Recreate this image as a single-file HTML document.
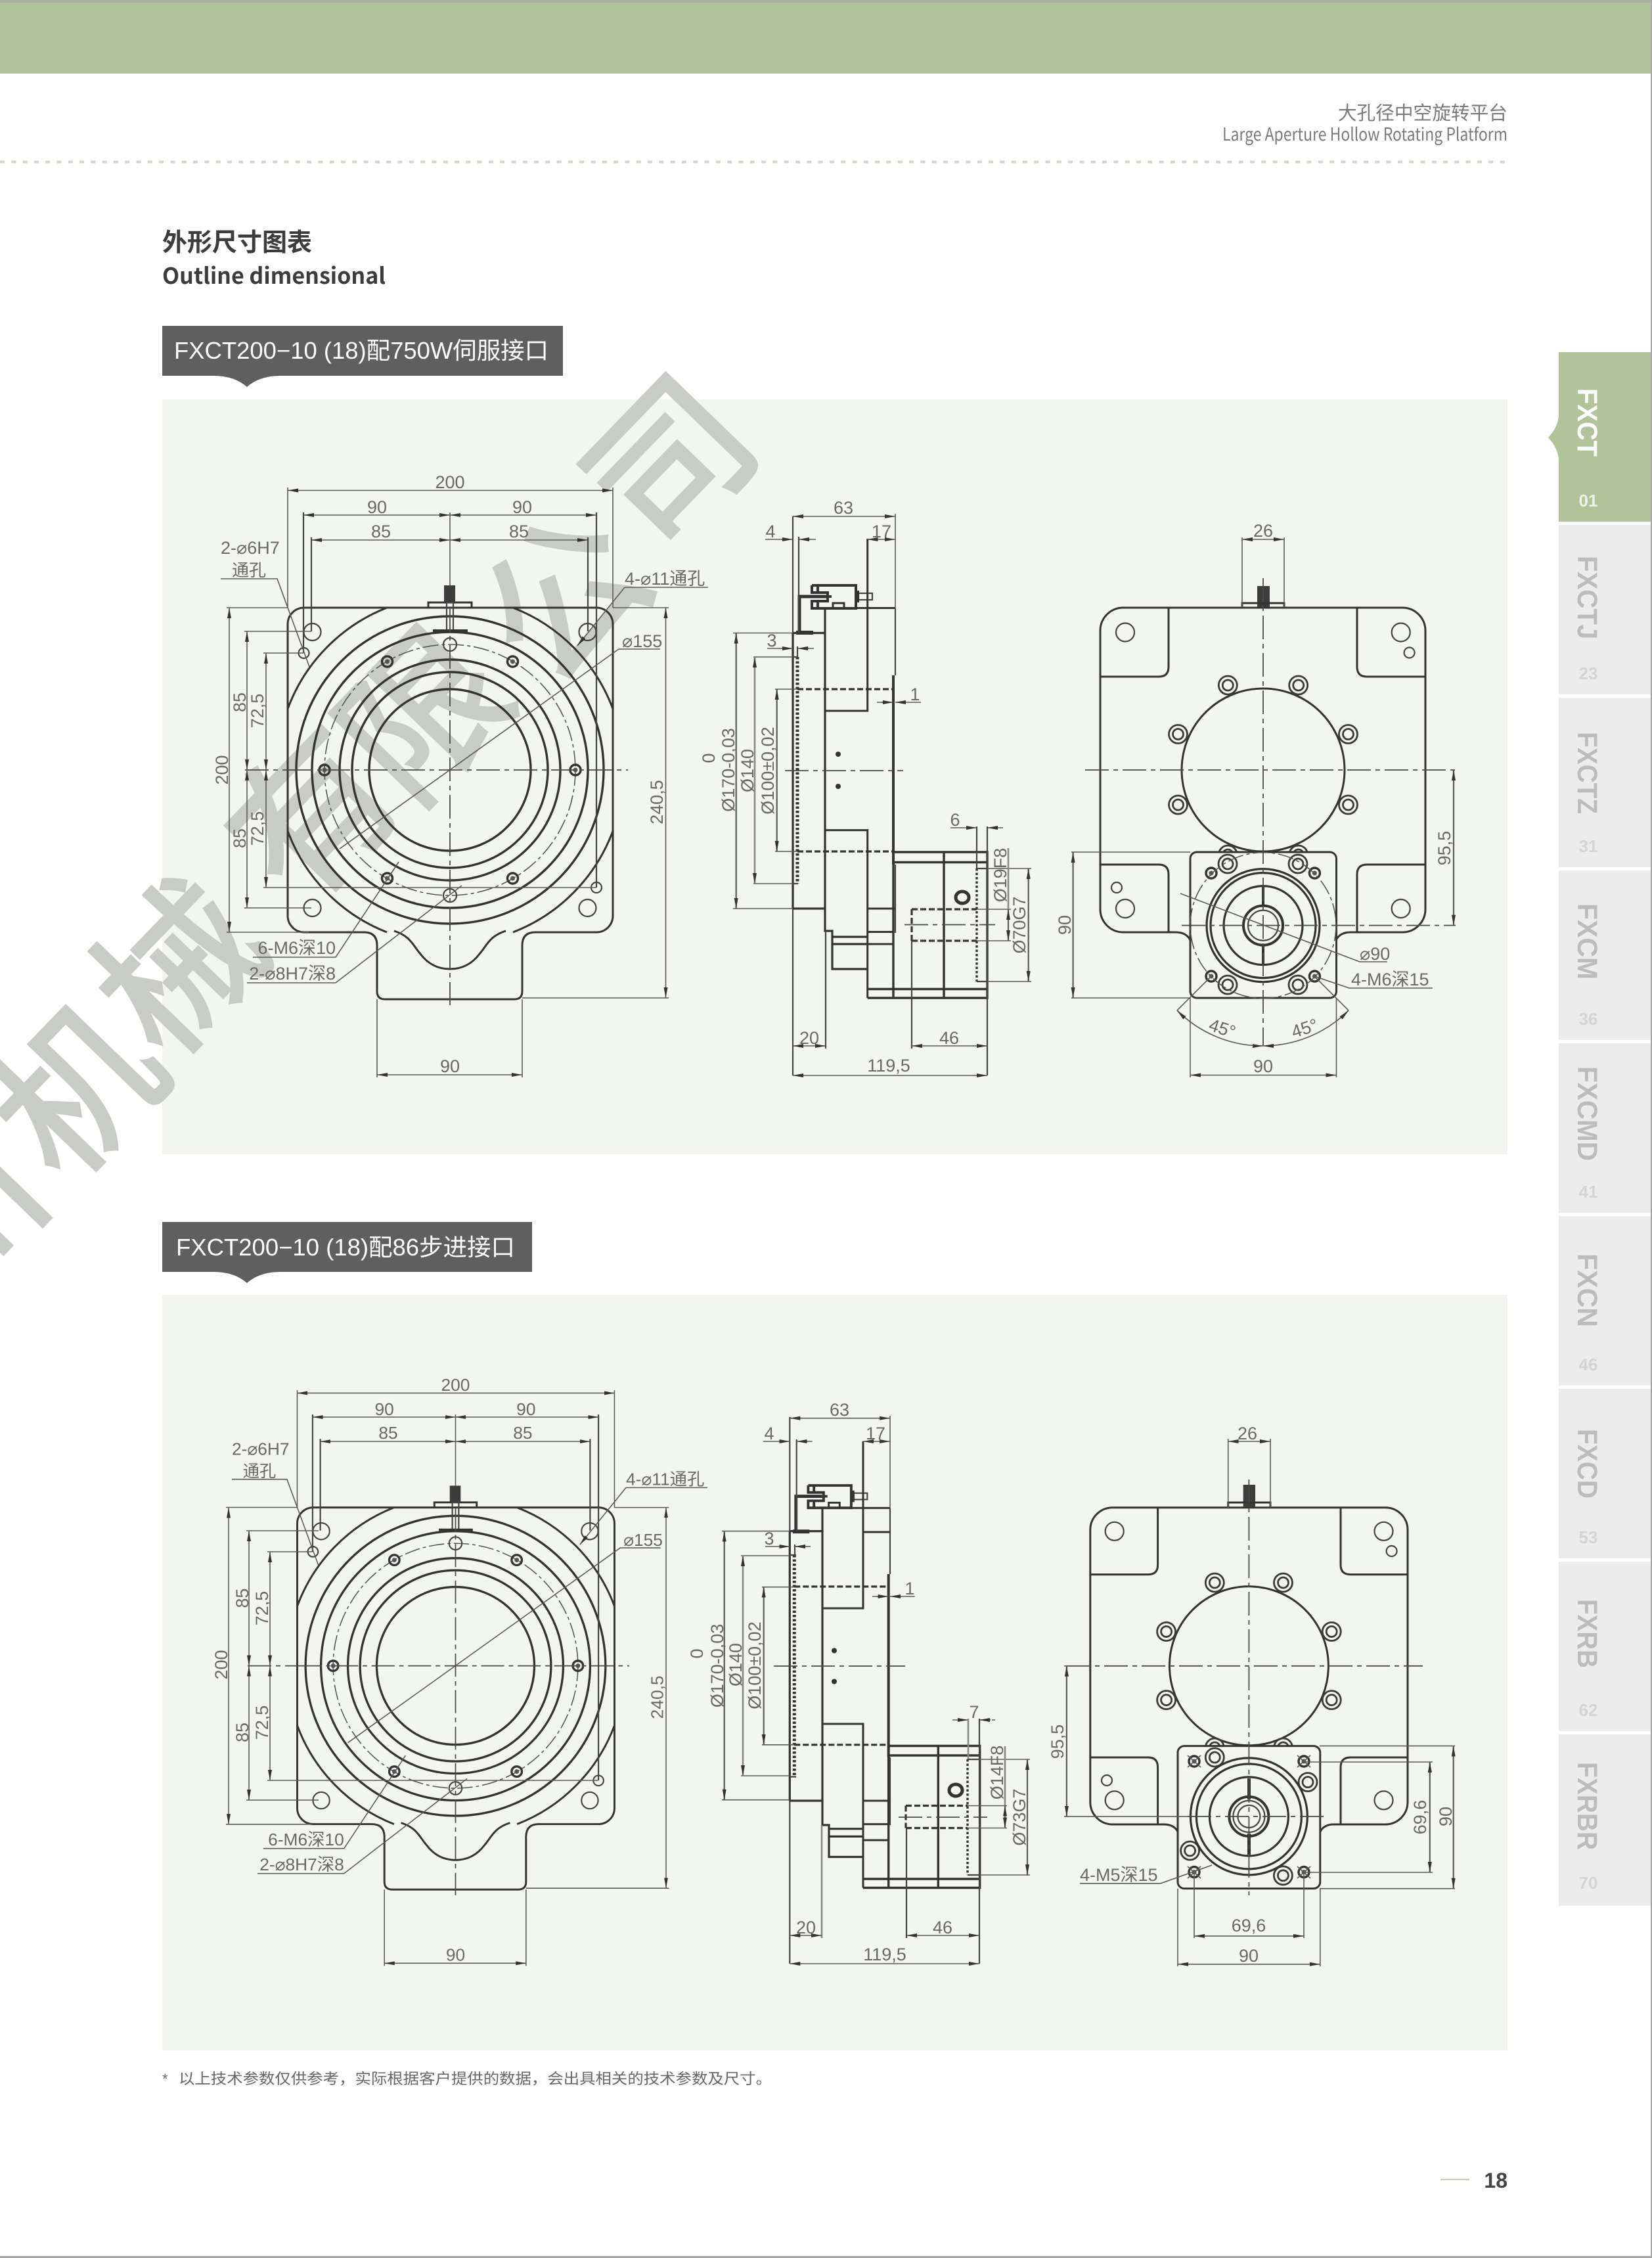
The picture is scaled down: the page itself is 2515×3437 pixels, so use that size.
<!DOCTYPE html>
<html lang="zh">
<head>
<meta charset="utf-8">
<title>FXCT200 Outline dimensional</title>
<style>
html,body{margin:0;padding:0;background:#fff;width:2515px;height:3437px;overflow:hidden}
svg{position:absolute;left:0;top:0;display:block}
.o{fill:none;stroke:#333;stroke-width:3}
.k{fill:none;stroke:#333;stroke-width:4}
.n{fill:none;stroke:#444;stroke-width:2.200}
.d{fill:none;stroke:#5a5a5a;stroke-width:1.600}
.g{fill:none;stroke:#888;stroke-width:2.600}
.c{fill:none;stroke:#4a4a4a;stroke-width:1.800;stroke-dasharray:36 7 7 7}
.s{fill:none;stroke:#555;stroke-width:1.600;stroke-dasharray:24 5 5 5}
.h{fill:none;stroke:#333;stroke-width:3.200;stroke-dasharray:9 4}
.p{fill:none;stroke:#333;stroke-width:5;stroke-dasharray:3.500 3}
.a{marker-start:url(#ar);marker-end:url(#ar)}
.e{marker-end:url(#ar)}
.t{font-family:"Liberation Sans","Noto Sans CJK SC",sans-serif;font-size:27px;fill:#696969}
.m{text-anchor:middle}
.r{text-anchor:end}
.tab{font-family:"Liberation Sans",sans-serif;font-weight:700;font-size:43px}
.num{font-family:"Liberation Sans",sans-serif;font-weight:700;font-size:26px;text-anchor:middle}
.wm{font-family:"Noto Sans CJK SC",sans-serif;font-weight:400;font-size:240px;fill:#c9cbc7;stroke:#c9cbc7;stroke-width:5;text-anchor:middle}
</style>
</head>
<body>
<svg xmlns="http://www.w3.org/2000/svg" width="2515" height="3437" viewBox="0 0 2515 3437">
<defs>
<marker id="ar" viewBox="0 0 16 6" refX="16" refY="3" markerWidth="16" markerHeight="6" markerUnits="userSpaceOnUse" orient="auto-start-reverse"><path d="M0 0L16 3L0 6z" fill="#333"/></marker>
<g id="hl"><circle fill="none" stroke="#3a3a3a" stroke-width="2.800" r="14"/><circle fill="none" stroke="#3a3a3a" stroke-width="2.800" r="8"/></g>
<g id="mh"><circle r="8" fill="none" stroke="#333" stroke-width="3.400"/><circle r="3.500" fill="#555"/></g>

<g id="fg">
<path class="o" d="M463 925H908A25 25 0 0 1 933 950V1394A25 25 0 0 1 908 1419H815Q795 1419 795 1439V1509Q795 1521 783 1521H586Q574 1521 574 1509V1439Q574 1419 554 1419H463A25 25 0 0 1 438 1394V950A25 25 0 0 1 463 925Z"/>
<path class="o" d="M438 1079A264 264 0 0 1 589 925M781 925A264 264 0 0 1 933 1079M933 1265A264 264 0 0 1 781 1419M438 1265A264 264 0 0 0 589 1419"/>
<path class="o" d="M600 1417C625 1425 628 1438 640 1452C652 1468 668 1475 685 1475C702 1475 718 1468 730 1452C742 1438 745 1425 770 1417"/>
<circle class="k" style="stroke-width:3.400" cx="685" cy="1172" r="234"/>
<circle class="k" style="stroke-width:3.400" cx="685" cy="1172" r="210"/>
<circle class="k" style="stroke-width:3.400" cx="685" cy="1172" r="168"/>
<circle class="k" style="stroke-width:3.400" cx="685" cy="1172" r="149"/>
<circle class="k" style="stroke-width:3.400" cx="685" cy="1172" r="123"/>
<circle class="s" cx="685" cy="1172" r="191"/>
<circle class="n" cx="475.500" cy="962" r="13"/>
<circle class="n" cx="894.500" cy="962" r="13"/>
<circle class="n" cx="475.500" cy="1382" r="13"/>
<circle class="n" cx="894.500" cy="1382" r="13"/>
<circle class="n" cx="462.500" cy="994" r="8"/>
<circle class="n" cx="908" cy="1351" r="8"/>
<circle class="n" cx="685" cy="981" r="10"/>
<circle class="n" cx="685" cy="1363" r="10"/>
<use href="#mh" x="494" y="1172"/><use href="#mh" x="876" y="1172"/>
<use href="#mh" x="589.500" y="1007"/><use href="#mh" x="780.500" y="1007"/>
<use href="#mh" x="589.500" y="1337"/><use href="#mh" x="780.500" y="1337"/>
<rect x="676" y="891" width="17" height="26" fill="#3c3c3c"/>
<path class="o" d="M652 925V917H718V925"/>
<rect class="n" x="680" y="917" width="10" height="44" fill="#f3f5f0"/>
<path class="k" d="M659 960H712"/>
<path class="d" d="M685 780V891"/>
<path class="c" d="M685 925V1530M440 1172H956"/>
<path class="d a" d="M438 746.500H933"/>
<path class="d" d="M438 742V925M933 742V925"/>
<path class="d a" d="M462 784H685"/><path class="d a" d="M685 784H908"/>
<path class="d a" d="M474 822H685"/><path class="d a" d="M685 822H895"/>
<path class="n" d="M462 780V994M908 780V1351M474 818V961M895 818V961"/>
<path class="d a" d="M1013.500 925V1519"/>
<path class="d" d="M933 925H1018M795 1519H1018"/>
<path class="d a" d="M574 1636H795"/>
<path class="d" d="M574 1521V1640M795 1521V1640"/>
<path class="d" d="M336 881H422L471 1015"/>
<path class="d" d="M951 894H1078"/><path class="d e" d="M951 894L879 983"/>
<path class="d" d="M1005 988H942L517 1292"/>
<path class="d" d="M385 1457H511L607 1312"/>
<path class="d" d="M376 1496H511L703 1348"/>
</g>

<g id="cn">
<path class="k" style="stroke-width:5" d="M1217 963V908H1258"/>
<path class="k" style="stroke-width:6" d="M1212 963H1238"/>
<path class="k" d="M1236 891H1303V926H1236V915H1245V926M1236 891V902H1245V891M1245 902H1260V915H1245M1258 908H1266"/>
<path class="o" d="M1268 925V918H1285V925"/>
<rect class="n" x="1307" y="903" width="21" height="10"/>
<rect x="1302" y="899" width="6" height="18" fill="#333"/>
</g>

<g id="gr">
<circle class="k" style="stroke-width:3.200" r="86"/>
<circle class="k" style="stroke-width:3.200" r="80"/>
<circle class="k" style="stroke-width:3.200" r="60"/>
<circle class="k" r="30"/>
<circle class="n" r="23"/>
</g>
</defs>

<!-- page chrome -->
<rect width="2515" height="3437" fill="#fff"/>
<rect x="0" y="0" width="2515" height="4" fill="#a9aea3"/>
<rect x="0" y="4" width="2515" height="108" fill="#b1c399"/>
<rect x="2513" y="0" width="2" height="3437" fill="#a8a8a8"/>
<rect x="0" y="3434" width="2515" height="3" fill="#a8a8a8"/>
<path d="M0 246.500H2295" stroke="#d2d8c6" stroke-width="4" stroke-dasharray="7 10.300"/>
<text x="2295" y="182" text-anchor="end" font-family="'Noto Sans CJK SC',sans-serif" font-size="28.700" fill="#7a7a7a">大孔径中空旋转平台</text>
<text x="1861" y="214" textLength="434" lengthAdjust="spacingAndGlyphs" font-family="'Noto Sans CJK SC','Liberation Sans',sans-serif" font-size="27" fill="#7a7a7a">Large Aperture Hollow Rotating Platform</text>
<text x="247" y="382" font-family="'Noto Sans CJK SC',sans-serif" font-weight="700" font-size="38" fill="#3c3c3c">外形尺寸图表</text>
<text x="247" y="432" textLength="340" lengthAdjust="spacingAndGlyphs" font-family="'Noto Sans CJK SC',sans-serif" font-weight="700" font-size="34" fill="#3c3c3c">Outline dimensional</text>

<!-- labels -->
<path d="M247 496H857V572H427Q395 572 376 589Q357 572 325 572H247Z" fill="#5f5f5f"/>
<text x="265" y="546" textLength="570" lengthAdjust="spacingAndGlyphs" font-family="'Liberation Sans','Noto Sans CJK SC',sans-serif" font-size="36" fill="#fff">FXCT200−10 (18)配750W伺服接口</text>
<path d="M247 1860H810V1936H427Q395 1936 376 1953Q357 1936 325 1936H247Z" fill="#5f5f5f"/>
<text x="268" y="1911" textLength="516" lengthAdjust="spacingAndGlyphs" font-family="'Liberation Sans','Noto Sans CJK SC',sans-serif" font-size="36" fill="#fff">FXCT200−10 (18)配86步进接口</text>

<!-- panels -->
<rect x="247" y="608" width="2048" height="1149" fill="#f3f5f0"/>
<rect x="247" y="1971" width="2048" height="1150" fill="#f3f5f0"/>

<!-- watermark -->
<g class="wm">
<text transform="translate(-65 1848) rotate(-46)" y="90">州</text>
<text transform="translate(115 1657) rotate(-46)" y="90">机</text>
<text transform="translate(270 1470) rotate(-46)" y="90">械</text>
<text transform="translate(474 1237) rotate(-46)" y="90">有</text>
<text transform="translate(643 1086) rotate(-46)" y="90">限</text>
<text transform="translate(857 907) rotate(-46)" y="90">公</text>
<text transform="translate(1018 702) rotate(-46)" y="90">司</text>
</g>

<!-- tabs -->
<path d="M2373 536H2513V794H2373V700Q2372 682 2357 666Q2372 650 2373 632Z" fill="#b1c399"/>
<rect x="2373" y="799" width="140" height="258" fill="#ececec"/>
<rect x="2373" y="1062" width="140" height="258" fill="#ececec"/>
<rect x="2373" y="1325" width="140" height="258" fill="#ececec"/>
<rect x="2373" y="1588" width="140" height="258" fill="#ececec"/>
<rect x="2373" y="1851" width="140" height="258" fill="#ececec"/>
<rect x="2373" y="2114" width="140" height="258" fill="#ececec"/>
<rect x="2373" y="2377" width="140" height="258" fill="#ececec"/>
<rect x="2373" y="2640" width="140" height="261" fill="#ececec"/>
<g class="tab">
<text transform="translate(2402 591) rotate(90)" textLength="104" lengthAdjust="spacingAndGlyphs" fill="#fff">FXCT</text>
<g fill="#bcbcbc">
<text transform="translate(2402 846) rotate(90)" textLength="127" lengthAdjust="spacingAndGlyphs">FXCTJ</text>
<text transform="translate(2402 1114) rotate(90)" textLength="125" lengthAdjust="spacingAndGlyphs">FXCTZ</text>
<text transform="translate(2402 1375) rotate(90)" textLength="116" lengthAdjust="spacingAndGlyphs">FXCM</text>
<text transform="translate(2402 1623) rotate(90)" textLength="144" lengthAdjust="spacingAndGlyphs">FXCMD</text>
<text transform="translate(2402 1908) rotate(90)" textLength="112" lengthAdjust="spacingAndGlyphs">FXCN</text>
<text transform="translate(2402 2175) rotate(90)" textLength="106" lengthAdjust="spacingAndGlyphs">FXCD</text>
<text transform="translate(2402 2434) rotate(90)" textLength="105" lengthAdjust="spacingAndGlyphs">FXRB</text>
<text transform="translate(2402 2682) rotate(90)" textLength="134" lengthAdjust="spacingAndGlyphs">FXRBR</text>
</g>
</g>
<g class="num">
<text x="2418" y="771" fill="#eef2e6">01</text>
<g fill="#d4d4d4">
<text x="2418" y="1034">23</text><text x="2418" y="1297">31</text><text x="2418" y="1560">36</text>
<text x="2418" y="1823">41</text><text x="2418" y="2086">46</text><text x="2418" y="2349">53</text>
<text x="2418" y="2612">62</text><text x="2418" y="2875">70</text>
</g>
</g>

<!-- FRONT VIEW 1 -->
<use href="#fg"/>
<path class="c" d="M373 1172H440"/>
<path class="d a" d="M349 925V1419"/>
<path class="d" d="M345 925H438M345 1419H470M372 961H474M372 1382H474M401 994H462M401 1351H908"/>
<path class="d a" d="M376 961V1172"/><path class="d a" d="M376 1172V1382"/>
<path class="d a" d="M405 994V1172"/><path class="d a" d="M405 1172V1351"/>
<g class="t">
<text class="m" x="685" y="743">200</text>
<text class="m" x="574" y="781">90</text><text class="m" x="795" y="781">90</text>
<text class="m" x="580" y="818">85</text><text class="m" x="790" y="818">85</text>
<text x="336" y="843">2-⌀6H7</text><text x="353" y="877" font-size="26">通孔</text>
<text x="951" y="890">4-⌀11通孔</text>
<text x="947" y="985">⌀155</text>
<text class="r" x="511" y="1452">6-M6深10</text>
<text class="r" x="511" y="1491">2-⌀8H7深8</text>
<text class="m" x="685" y="1632">90</text>
<text class="m" transform="translate(347 1172) rotate(-90)">200</text>
<text class="m" transform="translate(374 1069) rotate(-90)">85</text>
<text class="m" transform="translate(374 1276) rotate(-90)">85</text>
<text class="m" transform="translate(401 1082) rotate(-90)">72,5</text>
<text class="m" transform="translate(401 1261) rotate(-90)">72,5</text>
<text class="m" transform="translate(1009 1221) rotate(-90)">240,5</text>
</g>

<!-- FRONT VIEW 2 -->
<g transform="translate(693.500 2535.600) scale(.9757) translate(-685 -1172)">
<use href="#fg"/>
<g class="t">
<text class="m" x="685" y="743">200</text>
<text class="m" x="574" y="781">90</text><text class="m" x="795" y="781">90</text>
<text class="m" x="580" y="818">85</text><text class="m" x="790" y="818">85</text>
<text x="336" y="843">2-⌀6H7</text><text x="353" y="877" font-size="26">通孔</text>
<text x="951" y="890">4-⌀11通孔</text>
<text x="947" y="985">⌀155</text>
<text class="r" x="511" y="1452">6-M6深10</text>
<text class="r" x="511" y="1491">2-⌀8H7深8</text>
<text class="m" x="685" y="1632">90</text>
<text class="m" transform="translate(1009 1221) rotate(-90)">240,5</text>
</g>
</g>
<path class="c" d="M377 2535.600H455"/>
<path class="d a" d="M348 2294.500V2776.800"/>
<path class="d" d="M344 2294.500H453M344 2776.800H475M375 2330H485M375 2740H485M407 2362H476M407 2710H910"/>
<path class="d a" d="M379 2330V2535.600"/><path class="d a" d="M379 2535.600V2740"/>
<path class="d a" d="M411 2362V2535.600"/><path class="d a" d="M411 2535.600V2710"/>
<g class="t">
<text class="m" transform="translate(346 2534) rotate(-90)">200</text>
<text class="m" transform="translate(378 2432.600) rotate(-90)">85</text>
<text class="m" transform="translate(378 2637) rotate(-90)">85</text>
<text class="m" transform="translate(408 2448) rotate(-90)">72,5</text>
<text class="m" transform="translate(408 2622) rotate(-90)">72,5</text>
</g>

<!-- SIDE VIEW 1 -->
<use href="#cn"/>
<path class="n" d="M1207 786V963M1207 1383V1637"/>
<path class="o" style="stroke-width:3.200" d="M1207 963.500V1383M1207 963.500H1256M1207 1383H1256"/>
<path class="o" style="stroke-width:3.200" d="M1256 925V1417H1267V1475H1320.700M1267 1426H1320.700M1267 1437H1320.700"/>
<path class="o" d="M1256 925.500H1363"/>
<path class="n" d="M1363 925.500V1028"/>
<path class="k" d="M1360 1028V1316"/>
<path class="n" d="M1363 1316V1420"/>
<path class="o" d="M1320.700 820V1082H1256M1256 1263.600H1320.700V1519"/>
<path class="o" d="M1320.700 1383H1363M1320.700 1418.500H1360M1320.700 1437H1360"/>
<path class="k" style="stroke-width:3.400" d="M1360 1297H1503V1519H1320.700M1360 1312.500H1503M1320.700 1505.500H1503M1437 1297V1519M1360 1316V1519"/>
<path class="h" d="M1214 1049H1360M1214 1296H1360"/>
<path class="p" d="M1214 1000V1345"/>
<path class="n" d="M1207 1345H1215M1207 1000H1215"/>
<path class="d" d="M1116 963.500H1207M1116 1383H1207M1147 1000H1207M1147 1345H1207M1180 1049H1214M1180 1296H1214"/>
<path class="d a" style="stroke-width:2.200" d="M1120.700 963.500V1383"/>
<path class="g a" d="M1149 1000V1345"/>
<path class="d a" style="stroke-width:2.200" d="M1182.700 1049V1296"/>
<path class="c" d="M1195 1173H1375"/>
<circle cx="1276" cy="1148" r="4" fill="#333"/><circle cx="1276" cy="1197" r="4" fill="#333"/>
<path class="d a" d="M1207 786H1363"/>
<path class="d" d="M1363 782V925"/>
<path class="d" d="M1165 821H1192M1232 821H1242"/>
<path class="d e" d="M1190 821H1207"/><path class="d e" d="M1233 821H1216"/>
<path class="n" d="M1216 817V963"/>
<path class="d a" d="M1320.700 821H1363"/>
<path class="d" d="M1168 987H1190M1220 987H1239"/>
<path class="d e" d="M1190 987H1207"/><path class="d e" d="M1231 987H1214"/>
<path class="n" d="M1214 984V1000"/>
<path class="d" d="M1335 1069H1345M1380 1069H1402"/>
<path class="d e" d="M1342 1069H1360"/><path class="d e" d="M1380 1069H1363"/>
<path class="d" d="M1447 1260H1470M1520 1260H1527"/>
<path class="d e" d="M1470 1260H1487"/><path class="d e" d="M1520 1260H1503"/>
<path class="n" d="M1487 1258V1322"/>
<path class="n" d="M1503 1258V1637"/>
<path class="p" style="stroke-width:3.400" d="M1487 1322V1494"/>
<path class="n" d="M1487 1322H1503M1487 1494H1503"/>
<path class="h" d="M1388 1384H1487M1388 1432H1487M1388 1384V1432"/>
<path class="c" d="M1377 1407.500H1515"/>
<ellipse cx="1465" cy="1366" rx="10" ry="9" fill="none" stroke="#333" stroke-width="5"/>
<path class="d" d="M1487 1384H1539M1487 1432H1539M1503 1322H1570M1503 1494H1570"/>
<path class="g" d="M1535 1291V1384"/>
<path class="d a" style="stroke-width:2.200" d="M1535 1384V1432"/>
<path class="d a" style="stroke-width:2.200" d="M1565.700 1322V1494"/>
<path class="n" d="M1388 1432V1596"/>
<path class="n" d="M1257 1417V1596"/>
<path class="d a" d="M1207 1592H1257"/>
<path class="d a" d="M1388 1592H1503"/>
<path class="d a" d="M1207 1637H1503"/>
<g class="t">
<text class="m" x="1284" y="782">63</text>
<text class="m" x="1173" y="818">4</text>
<text class="m" x="1342" y="818">17</text>
<text class="m" x="1175" y="984">3</text>
<text class="m" x="1393" y="1066">1</text>
<text class="m" x="1454" y="1257">6</text>
<text class="m" x="1232" y="1589">20</text>
<text class="m" x="1445" y="1589">46</text>
<text class="m" x="1353" y="1631">119,5</text>
<text class="m" transform="translate(1088 1154) rotate(-90)">0</text>
<text class="m" transform="translate(1118 1172) rotate(-90)">Ø170-0,03</text>
<text class="m" transform="translate(1147 1173) rotate(-90)">Ø140</text>
<text class="m" transform="translate(1178 1173) rotate(-90)">Ø100±0,02</text>
<text class="m" transform="translate(1532 1332) rotate(-90)">Ø19F8</text>
<text class="m" transform="translate(1561 1408) rotate(-90)">Ø70G7</text>
</g>

<!-- SIDE VIEW 2 -->
<g transform="translate(1202 2535) scale(.978 .975) translate(-1207 -1172)"><use href="#cn"/></g>
<path class="n" d="M1202.300 2157V2331M1202.300 2741V2989"/>
<path class="o" style="stroke-width:3.200" d="M1202.300 2330.600V2741M1202.300 2330.600H1252M1202.300 2741H1252"/>
<path class="o" style="stroke-width:3.200" d="M1252 2295.400V2778H1262V2826.500H1314M1262 2783.700H1314M1262 2795.400H1314"/>
<path class="o" d="M1252 2295.400H1355"/>
<path class="n" d="M1355 2295.400V2396"/>
<path class="k" d="M1352.700 2396V2675"/>
<path class="n" d="M1355 2675V2778"/>
<path class="o" d="M1314 2194V2448H1252M1252 2624H1314V2873.500M1314 2332H1355M1314 2741H1355M1314 2776.600H1355M1314 2801H1352.700"/>
<path class="k" style="stroke-width:3.400" d="M1352.700 2657.500H1491.700V2873.500H1314M1352.700 2672H1491.700M1314 2860H1491.700M1428.300 2657.500V2873.500M1352.700 2675V2873.500"/>
<path class="h" d="M1209.300 2415H1352.700M1209.300 2655.800H1352.700"/>
<path class="p" d="M1209.300 2367V2704.500"/>
<path class="n" d="M1202.300 2704.500H1212M1202.300 2367H1212"/>
<path class="d" d="M1099 2330.600H1202.300M1099 2739.700H1202.300M1128 2368H1202.300M1128 2703H1202.300M1160 2415.700H1209M1160 2655.800H1209"/>
<path class="d a" style="stroke-width:2.200" d="M1102.700 2330.600V2739.700"/>
<path class="g a" d="M1131 2368V2703"/>
<path class="d a" style="stroke-width:2.200" d="M1162.700 2415.700V2655.800"/>
<path class="c" d="M1178 2536H1378"/>
<circle cx="1270" cy="2512.500" r="4" fill="#333"/><circle cx="1270" cy="2559.500" r="4" fill="#333"/>
<path class="d a" d="M1202.300 2158.700H1355"/>
<path class="d" d="M1355 2155V2295"/>
<path class="d" d="M1161.700 2194H1186M1228 2194H1236.700"/>
<path class="d e" d="M1186 2194H1202.300"/><path class="d e" d="M1229 2194H1212.700"/>
<path class="n" d="M1212.700 2191V2330"/>
<path class="d a" d="M1314 2194H1355"/>
<path class="d" d="M1165 2354H1186M1216 2354H1234"/>
<path class="d e" d="M1186 2354H1202.300"/><path class="d e" d="M1226 2354H1210"/>
<path class="n" d="M1210 2351V2367"/>
<path class="d" d="M1328 2430H1337M1372 2430H1392.700"/>
<path class="d e" d="M1335 2430H1352.700"/><path class="d e" d="M1372 2430H1355"/>
<path class="d" d="M1450 2618H1457M1510 2618H1515"/>
<path class="d e" d="M1457 2618H1474"/><path class="d e" d="M1508 2618H1491"/>
<path class="g" d="M1474 2616V2678"/>
<path class="n" d="M1491 2616V2989"/>
<path class="p" style="stroke-width:3.400" d="M1473 2678V2854"/>
<path class="n" d="M1473 2678H1491.700M1473 2854H1491.700"/>
<path class="h" d="M1379 2748.500H1473M1379 2782.500H1473M1379 2748.500V2782.500"/>
<path class="c" d="M1368 2766H1503"/>
<ellipse cx="1455" cy="2725" rx="10" ry="9" fill="none" stroke="#333" stroke-width="5"/>
<path class="d" d="M1473 2748.500H1533M1473 2782.500H1533M1491 2678H1568M1491 2854H1568"/>
<path class="g" d="M1530 2658V2748"/>
<path class="d a" style="stroke-width:2.200" d="M1530 2748.500V2782.500"/>
<path class="d a" style="stroke-width:2.200" d="M1564 2678V2854"/>
<path class="n" d="M1380 2782.500V2950"/>
<path class="g" d="M1251 2778V2950"/>
<path class="d a" d="M1202.300 2946H1251"/>
<path class="d a" d="M1380 2946H1491"/>
<path class="d a" d="M1202.300 2989H1491"/>
<g class="t">
<text class="m" x="1278" y="2155">63</text>
<text class="m" x="1171" y="2191">4</text>
<text class="m" x="1333" y="2191">17</text>
<text class="m" x="1171" y="2351">3</text>
<text class="m" x="1385" y="2427">1</text>
<text class="m" x="1483" y="2615">7</text>
<text class="m" x="1227" y="2943">20</text>
<text class="m" x="1435" y="2943">46</text>
<text class="m" x="1347" y="2984">119,5</text>
<text class="m" transform="translate(1070 2517) rotate(-90)">0</text>
<text class="m" transform="translate(1101 2535.500) rotate(-90)">Ø170-0,03</text>
<text class="m" transform="translate(1129 2534) rotate(-90)">Ø140</text>
<text class="m" transform="translate(1158 2535) rotate(-90)">Ø100±0,02</text>
<text class="m" transform="translate(1527 2698) rotate(-90)">Ø14F8</text>
<text class="m" transform="translate(1561 2766) rotate(-90)">Ø73G7</text>
</g>

<!-- REAR VIEW 1 -->
<path class="o" d="M1812 1431Q1806 1419 1790 1419H1710A35 35 0 0 1 1675 1384V960A35 35 0 0 1 1710 925H2135A35 35 0 0 1 2170 960V1384A35 35 0 0 1 2135 1419H2056Q2040 1419 2034 1431"/>
<path class="o" d="M1675 1030H1764Q1779 1030 1779 1015V925M2170 1030H2081Q2066 1030 2066 1015V925M1675 1316H1764Q1779 1316 1779 1331V1419M2170 1316H2081Q2066 1316 2066 1331V1419"/>
<circle class="o" cx="1923" cy="1172" r="124"/>
<use href="#hl" x="1869.300" y="1043"/><use href="#hl" x="1976.700" y="1043"/>
<use href="#hl" x="1793.500" y="1117.500"/><use href="#hl" x="2052.500" y="1117.500"/>
<use href="#hl" x="1793.500" y="1225"/><use href="#hl" x="2052.500" y="1225"/>
<use href="#hl" x="1869.300" y="1301"/><use href="#hl" x="1976.700" y="1301"/>
<circle class="n" cx="1713" cy="962.500" r="14"/><circle class="n" cx="2132.700" cy="962.500" r="14"/>
<circle class="n" cx="1713" cy="1383" r="14"/><circle class="n" cx="2132.700" cy="1383" r="14"/>
<circle class="n" cx="2145.600" cy="993.500" r="8"/><circle class="n" cx="1700" cy="1351" r="8"/>
<rect class="o" x="1812" y="1297" width="222.500" height="222" rx="10" style="fill:#f3f5f0"/>
<use href="#hl" x="1869" y="1315"/><use href="#hl" x="1976" y="1315"/>
<use href="#hl" x="1869" y="1499"/><use href="#hl" x="1976" y="1499"/>
<use href="#gr" x="1923" y="1408.600"/>
<use href="#mh" x="1844" y="1329"/><use href="#mh" x="2001.400" y="1329"/>
<use href="#mh" x="1844" y="1486"/><use href="#mh" x="2001.400" y="1486"/>
<circle class="s" cx="1923" cy="1408.600" r="111"/>
<rect x="1921" y="1348" width="4" height="32" fill="#333"/><rect x="1921" y="1437" width="4" height="32" fill="#333"/>
<rect x="1914" y="892" width="19" height="32" fill="#3c3c3c"/>
<path class="o" d="M1891 925V918H1955V925"/>
<path class="c" d="M1923 880V1592M1652 1172H2216M1799 1408.600H2216"/>
<path class="d" d="M1891 818V925M1955 818V925"/>
<path class="d a" d="M1891 821H1955"/>
<path class="d a" style="stroke-width:2.200" d="M2213 1172V1408.600"/>
<path class="d" d="M1631 1297H1812M1631 1519H1812"/>
<path class="d a" style="stroke-width:2.200" d="M1633.600 1297V1519"/>
<path class="d" d="M2112 1464H2070L1797 1360"/>
<path class="d" d="M2181 1504H2054L2001 1486"/>
<path class="d" d="M1844 1486L1792 1538M2001 1486L2053 1538"/>
<path class="d a" d="M1792 1538A184 184 0 0 0 1923 1592"/>
<path class="d a" d="M2053 1538A184 184 0 0 1 1923 1592"/>
<path class="d a" d="M1812 1636.500H2034.500"/>
<path class="d" d="M1812 1519V1640M2034.500 1519V1640"/>
<g class="t">
<text class="m" x="1923" y="817">26</text>
<text class="m" transform="translate(2208 1291) rotate(-90)">95,5</text>
<text class="m" transform="translate(1630 1408) rotate(-90)">90</text>
<text x="2070" y="1461">⌀90</text>
<text x="2057" y="1500">4-M6深15</text>
<text class="m" transform="translate(1858 1574) rotate(18)">45°</text>
<text class="m" transform="translate(1989 1574) rotate(-18)">45°</text>
<text class="m" x="1923" y="1632">90</text>
</g>

<!-- REAR VIEW 2 -->
<path class="o" d="M1793 2788Q1787 2777 1772 2777H1693A34 34 0 0 1 1659.800 2743V2328A34 34 0 0 1 1693 2294.700H2110A34 34 0 0 1 2143 2328V2743A34 34 0 0 1 2110 2777H2030Q2016 2777 2009.800 2788"/>
<path class="o" d="M1659.800 2396.600H1748Q1762.600 2396.600 1762.600 2382V2294.700M2143 2396.600H2056Q2041 2396.600 2041 2382V2294.700M1659.800 2675H1748Q1762.600 2675 1762.600 2690V2777M2143 2675H2056Q2041 2675 2041 2690V2777"/>
<circle class="o" cx="1901.400" cy="2535.800" r="121"/>
<use href="#hl" x="1849.300" y="2409"/><use href="#hl" x="1953.500" y="2409"/>
<use href="#hl" x="1775.600" y="2483.500"/><use href="#hl" x="2027.200" y="2483.500"/>
<use href="#hl" x="1775.600" y="2587.600"/><use href="#hl" x="2027.200" y="2587.600"/>
<use href="#hl" x="1849.300" y="2660"/><use href="#hl" x="1953.500" y="2660"/>
<circle class="n" cx="1696.700" cy="2330.800" r="14"/><circle class="n" cx="2106.500" cy="2330.800" r="14"/>
<circle class="n" cx="1696.700" cy="2740.300" r="14"/><circle class="n" cx="2106.500" cy="2740.300" r="14"/>
<circle class="n" cx="2118.600" cy="2361" r="8"/><circle class="n" cx="1685" cy="2710" r="8"/>
<rect class="o" x="1793" y="2657.600" width="216.800" height="217" rx="10" style="fill:#f3f5f0"/>
<use href="#hl" x="1849.300" y="2675"/><use href="#hl" x="1991" y="2712.600"/>
<use href="#hl" x="1811.600" y="2817"/><use href="#hl" x="1953.400" y="2854.800"/>
<circle class="k" style="stroke-width:3.200" cx="1901.400" cy="2764.900" r="89"/>
<circle class="k" style="stroke-width:3.200" cx="1901.400" cy="2764.900" r="80"/>
<circle class="k" style="stroke-width:3.200" cx="1901.400" cy="2764.900" r="60"/>
<circle class="k" cx="1901.400" cy="2764.900" r="30"/>
<circle class="n" cx="1901.400" cy="2764.900" r="24"/>
<circle class="n" cx="1901.400" cy="2764.900" r="17"/>
<use href="#mh" x="1818" y="2681"/><use href="#mh" x="1985" y="2681"/>
<use href="#mh" x="1818" y="2849.600"/><use href="#mh" x="1985" y="2849.600"/>
<path class="d" d="M1808 2672L1828 2690M1828 2672L1808 2690M1975 2672L1995 2690M1995 2672L1975 2690M1808 2841L1828 2859M1828 2841L1808 2859M1975 2841L1995 2859M1995 2841L1975 2859"/>
<rect x="1899" y="2707" width="5" height="32" fill="#333"/><rect x="1899" y="2791" width="5" height="32" fill="#333"/>
<rect x="1892.700" y="2260" width="18.300" height="34" fill="#3c3c3c"/>
<path class="o" d="M1869.700 2295V2287H1934V2295"/>
<path class="c" d="M1901.400 2252V2885M1624 2535.800H2166M1808 2764.900H2020.600"/>
<path class="d" d="M1869.700 2190V2295M1934 2190V2295"/>
<path class="d a" d="M1869.700 2194H1934"/>
<path class="d a" style="stroke-width:2.200" d="M1623.900 2535.800V2764.900"/>
<path class="d" d="M1620 2535.800H1660M1620 2764.900H1808"/>
<path class="d a" style="stroke-width:2.200" d="M2176.800 2682V2850"/>
<path class="d" d="M1985 2682H2181M1985 2850H2181"/>
<path class="d a" style="stroke-width:2.200" d="M2212.700 2657.600V2874.700"/>
<path class="d" d="M2009 2657.600H2215M2009 2874.700H2215"/>
<path class="d a" d="M1818 2946.900H1985"/>
<path class="d" d="M1818 2849.600V2950M1985 2849.600V2950"/>
<path class="d a" d="M1793 2989.800H2009.800"/>
<path class="d" d="M1793 2874.700V2993M2009.800 2874.700V2993"/>
<path class="d" d="M1644 2866.800H1767L1845 2839"/>
<g class="t">
<text class="m" x="1899" y="2191">26</text>
<text class="m" transform="translate(1619 2651) rotate(-90)">95,5</text>
<text class="m" transform="translate(2171 2766) rotate(-90)">69,6</text>
<text class="m" transform="translate(2210 2765) rotate(-90)">90</text>
<text class="m" x="1901" y="2940">69,6</text>
<text class="m" x="1901" y="2986">90</text>
<text x="1644" y="2863">4-M5深15</text>
</g>

<!-- footer -->
<text x="247" y="3172" font-family="'Liberation Sans',sans-serif" font-size="22" fill="#666">*</text>
<text x="272" y="3172" textLength="903" lengthAdjust="spacingAndGlyphs" font-family="'Noto Sans CJK SC',sans-serif" font-size="22.500" fill="#666">以上技术参数仅供参考，实际根据客户提供的数据，会出具相关的技术参数及尺寸。</text>
<path d="M2193 3317.500H2237" stroke="#bfc6ae" stroke-width="2"/>
<text x="2295" y="3330" text-anchor="end" font-family="'Liberation Sans',sans-serif" font-weight="700" font-size="32" fill="#444">18</text>
</svg>
</body>
</html>
